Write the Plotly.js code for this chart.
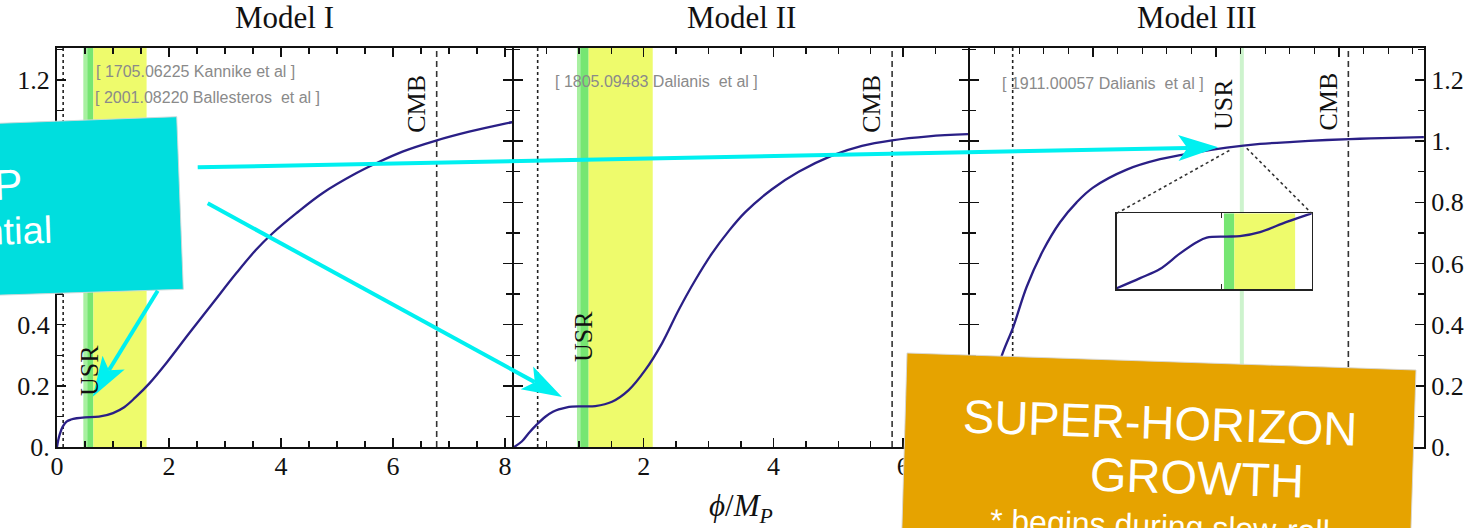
<!DOCTYPE html>
<html>
<head>
<meta charset="utf-8">
<script src="https://cdn.plot.ly/plotly-3.0.1.min.js"></script>
<style>html,body{margin:0;padding:0;background:#fff;}#chart{width:1475px;height:528px;}</style>
</head>
<body>
<div id="chart"></div>
<script>
// ---------------- data ----------------
const panelTitles = ["Model I", "Model II", "Model III"];
const citations = [
  "[ 1705.06225 Kannike et al ]",
  "[ 2001.08220 Ballesteros \u00a0et al ]",
  "[ 1805.09483 Dalianis \u00a0et al ]",
  "[ 1911.00057 Dalianis \u00a0et al ]"
];

const phiModelI = [0, 0.02, 0.05, 0.1, 0.17, 0.25, 0.35, 0.5, 0.75, 1.0, 1.2, 1.4, 1.65, 1.95, 2.36, 2.78, 3.2, 3.55, 3.85, 4.27, 4.74, 5.34, 5.7, 6.17, 6.77, 7.36, 7.96, 8.13];
const vModelI   = [0, 0.02, 0.042, 0.066, 0.083, 0.090, 0.094, 0.097, 0.099, 0.111, 0.130, 0.162, 0.208, 0.274, 0.372, 0.470, 0.568, 0.644, 0.699, 0.764, 0.830, 0.895, 0.928, 0.966, 1.002, 1.031, 1.056, 1.062];

const phiModelII = [0, 0.12, 0.226, 0.35, 0.483, 0.6, 0.689, 0.8, 0.894, 1.05, 1.253, 1.511, 1.768, 2.025, 2.282, 2.539, 2.796, 3.053, 3.31, 3.566, 3.978, 4.389, 4.903, 5.365, 5.828, 6.393, 7.0];
const vModelII   = [0, 0.018, 0.045, 0.073, 0.099, 0.115, 0.123, 0.129, 0.132, 0.133, 0.134, 0.148, 0.186, 0.252, 0.339, 0.448, 0.546, 0.633, 0.706, 0.768, 0.843, 0.900, 0.953, 0.985, 1.003, 1.016, 1.023];

const phiModelIII = [0.1, 0.15, 0.2, 0.252, 0.352, 0.461, 0.596, 0.732, 0.867, 1.0, 1.274, 1.545, 1.815, 2.087, 2.358, 2.628, 2.9, 3.17, 3.44, 3.69];
const vModelIII   = [0, 0.09, 0.19, 0.291, 0.393, 0.524, 0.644, 0.735, 0.800, 0.848, 0.907, 0.941, 0.962, 0.979, 0.991, 0.998, 1.004, 1.008, 1.011, 1.013];

// inset of Model III (zoom around the USR point)
const insetPhi = [1.900, 1.972, 2.033, 2.095, 2.146, 2.177, 2.238, 2.279, 2.341, 2.423, 2.500];
const insetV   = [0.9752, 0.9772, 0.9790, 0.9821, 0.9843, 0.9852, 0.9854, 0.9855, 0.9863, 0.9883, 0.9900];
const insetPhiRange = [1.9, 2.5];
const insetVRange = [0.975, 0.990];

// marker lines: end of inflation (dotted), CMB scale (dashed)
const endLine = [0.11, 0.365, 0.347];
const cmbLine = [6.78, 5.83, 3.076];
// USR band edges [light-green start, green start, yellow start, yellow end]
const usrBandI  = [0.47, 0.54, 0.65, 1.60];
const usrBandII = [0.971, 1.022, 1.151, 2.139];
const usrLineIII = 2.21;
const usrBandInset = [2.230, 2.262, 2.449];
const insetTick = [2.223];

const yTickVals = [0, 0.2, 0.4, 0.6, 0.8, 1.0, 1.2];
const yTickText = ["0.", "0.2", "0.4", "0.6", "0.8", "1.", "1.2"];
const xTickValsI = [0, 2, 4, 6, 8];
const xTickTextI = ["0", "2", "4", "6", "8"];
const xTickValsII = [2, 4, 6];
const xTickTextII = ["2", "4", "6"];
const xTickValsIII = [1, 2, 3];

// ---------------- layout helpers ----------------
const W = 1475, H = 528;
const px = x => x / W;
const py = y => 1 - y / H;

const curveColor = '#2a1f86';
const lightGreen = '#a8f0a0', green = '#76e672', yellow = '#eefb6c';

const serif = 'Liberation Serif, Times New Roman, serif';
const sans = 'Liberation Sans, Arial, sans-serif';

function bandTrace(x0, x1, color) {
  return {x: [x0, x1, x1, x0, x0], y: [insetVRange[0], insetVRange[0], insetVRange[1], insetVRange[1], insetVRange[0]],
    xaxis: 'x4', yaxis: 'y4', mode: 'lines', fill: 'toself', fillcolor: color, line: {width: 0, color: color}, hoverinfo: 'skip'};
}
const curveLine = {color: curveColor, width: 2.3, shape: 'spline', smoothing: 1};

const traces = [
  {x: phiModelI, y: vModelI, xaxis: 'x', yaxis: 'y', mode: 'lines', line: curveLine, hoverinfo: 'skip'},
  {x: phiModelII, y: vModelII, xaxis: 'x2', yaxis: 'y2', mode: 'lines', line: curveLine, hoverinfo: 'skip'},
  {x: phiModelIII, y: vModelIII, xaxis: 'x3', yaxis: 'y3', mode: 'lines', line: curveLine, hoverinfo: 'skip'},
  bandTrace(usrBandInset[0], usrBandInset[1], green),
  bandTrace(usrBandInset[1], usrBandInset[2], yellow),
  {x: insetPhi, y: insetV, xaxis: 'x4', yaxis: 'y4', mode: 'lines', line: curveLine, hoverinfo: 'skip'}
];

const yTop = 48, yBot = 447;
const yMax = (yBot - yTop) / 305.8;

function frameAxis(extra) {
  return Object.assign({
    showline: true, linecolor: '#111', linewidth: 2, mirror: 'ticks',
    ticks: 'inside', ticklen: 9, tickwidth: 1.5, tickcolor: '#111',
    showgrid: false, zeroline: false, fixedrange: true,
    tickfont: {family: serif, size: 26, color: '#111'}
  }, extra);
}

const yDomain = [(H - yBot) / H, (H - yTop) / H];
const yMinor = {tickmode: 'linear', tick0: 0, dtick: 0.1, ticklen: 6, tickwidth: 1.3, tickcolor: '#111', ticks: 'inside'};
const xMinor = d => ({tickmode: 'linear', tick0: 0, dtick: d, ticklen: 6, tickwidth: 1.3, tickcolor: '#111', ticks: 'inside'});

const layout = {
  width: W, height: H,
  margin: {l: 0, r: 0, t: 0, b: 0},
  paper_bgcolor: '#ffffff', plot_bgcolor: '#ffffff',
  showlegend: false,
  xaxis: frameAxis({domain: [px(57), px(512)], range: [0, 455 / 56], anchor: 'y', tickmode: 'array', tickvals: xTickValsI, ticktext: xTickTextI, ticklabelstandoff: -5, minor: xMinor(0.5)}),
  yaxis: frameAxis({domain: yDomain, range: [0, yMax], anchor: 'x', tickmode: 'array', tickvals: yTickVals, ticktext: yTickText, ticklabelstandoff: 0, minor: yMinor}),
  xaxis2: frameAxis({domain: [px(514), px(968)], range: [0, 7], anchor: 'y2', tickmode: 'array', tickvals: xTickValsII, ticktext: xTickTextII, ticklabelstandoff: -5, minor: xMinor(0.5)}),
  yaxis2: frameAxis({domain: yDomain, range: [0, yMax], anchor: 'x2', tickmode: 'array', tickvals: yTickVals, showticklabels: false, minor: yMinor}),
  xaxis3: frameAxis({domain: [px(970), px(1424)], range: [0, 454 / 123], anchor: 'y3', tickmode: 'array', tickvals: xTickValsIII, showticklabels: false, minor: xMinor(0.2)}),
  yaxis3: frameAxis({domain: yDomain, range: [0, yMax], anchor: 'x3', side: 'right', tickmode: 'array', tickvals: yTickVals, ticktext: yTickText, ticklabelstandoff: 0, minor: yMinor}),
  xaxis4: {domain: [px(1116.7), px(1311.7)], range: insetPhiRange, anchor: 'y4', showline: true, linecolor: '#222', linewidth: 1.5, mirror: 'ticks',
    ticks: 'inside', ticklen: 5, tickwidth: 1.5, tickcolor: '#222', tickmode: 'array', tickvals: insetTick, showticklabels: false, showgrid: false, zeroline: false, fixedrange: true, layer: 'above traces'},
  yaxis4: {domain: [(H - 289.3) / H, (H - 213.3) / H], range: insetVRange, anchor: 'x4', showline: true, linecolor: '#222', linewidth: 1.5, mirror: true,
    ticks: '', showticklabels: false, showgrid: false, zeroline: false, fixedrange: true, layer: 'above traces'},
  shapes: [],
  annotations: []
};

// ----- bands and marker lines -----
function band(xr, yr, x0, x1, color) {
  layout.shapes.push({type: 'rect', xref: xr, yref: yr + ' domain', x0: x0, x1: x1, y0: 0, y1: 1, fillcolor: color, line: {width: 0}, layer: 'below'});
}
band('x', 'y', usrBandI[0], usrBandI[1], lightGreen);
band('x', 'y', usrBandI[1], usrBandI[2], green);
band('x', 'y', usrBandI[2], usrBandI[3], yellow);
band('x2', 'y2', usrBandII[0], usrBandII[1], lightGreen);
band('x2', 'y2', usrBandII[1], usrBandII[2], green);
band('x2', 'y2', usrBandII[2], usrBandII[3], yellow);

layout.shapes.push({type: 'line', xref: 'x3', yref: 'y3 domain', x0: usrLineIII, x1: usrLineIII, y0: 0, y1: 1, line: {color: '#cdf3cd', width: 4}, layer: 'below'});

const axPairs = [['x', 'y'], ['x2', 'y2'], ['x3', 'y3']];
axPairs.forEach((p, i) => {
  layout.shapes.push({type: 'line', xref: p[0], yref: p[1] + ' domain', x0: endLine[i], x1: endLine[i], y0: 0, y1: 1, line: {color: '#222', width: 1.6, dash: 'dot'}, layer: 'below'});
  layout.shapes.push({type: 'line', xref: p[0], yref: p[1] + ' domain', x0: cmbLine[i], x1: cmbLine[i], y0: 0, y1: 1, line: {color: '#333', width: 1.6, dash: '6px,4px'}, layer: 'below'});
});

// dotted zoom guides from the curve to the inset corners (panel III data coords)
layout.shapes.push({type: 'line', xref: 'x3', yref: 'y3', x0: 1.193, y0: 0.764, x1: 2.114, y1: 0.971, line: {color: '#333', width: 1.6, dash: 'dot'}});
layout.shapes.push({type: 'line', xref: 'x3', yref: 'y3', x0: 2.25, y0: 0.977, x1: 2.778, y1: 0.764, line: {color: '#333', width: 1.6, dash: 'dot'}});

// ----- overlay boxes -----
function poly(pts, fill, lineColor) {
  const d = pts.map((p, k) => (k ? 'L' : 'M') + px(p[0]).toFixed(5) + ',' + py(p[1]).toFixed(5)).join(' ') + ' Z';
  layout.shapes.push({type: 'path', xref: 'paper', yref: 'paper', path: d, fillcolor: fill, line: {color: lineColor, width: lineColor ? 1 : 0}, layer: 'above'});
}
poly([[-60, 125.5], [176.7, 116.7], [183.3, 289.3], [-60, 297]], '#00dede', 'rgba(205,215,215,0.9)');
poly([[907, 353], [1416, 370], [1410, 560], [901, 560]], '#e6a300', 'rgba(215,215,215,0.9)');

// ----- cyan arrows -----
const cyan = '#00f0f0';
function arrow(tail, tip) {
  const dx = tip[0] - tail[0], dy = tip[1] - tail[1];
  const L = Math.hypot(dx, dy), ux = dx / L, uy = dy / L, nx = -uy, ny = ux;
  const headLen = 40, halfW = 13, notch = 31;
  const lineEnd = [tip[0] - ux * notch, tip[1] - uy * notch];
  layout.shapes.push({type: 'path', xref: 'paper', yref: 'paper', layer: 'above',
    path: 'M' + px(tail[0]) + ',' + py(tail[1]) + ' L' + px(lineEnd[0]) + ',' + py(lineEnd[1]),
    line: {color: cyan, width: 4}});
  const pts = [tip,
    [tip[0] - ux * headLen + nx * halfW, tip[1] - uy * headLen + ny * halfW],
    [tip[0] - ux * notch, tip[1] - uy * notch],
    [tip[0] - ux * headLen - nx * halfW, tip[1] - uy * headLen - ny * halfW]];
  const d = pts.map((p, k) => (k ? 'L' : 'M') + px(p[0]) + ',' + py(p[1])).join(' ') + ' Z';
  layout.shapes.push({type: 'path', xref: 'paper', yref: 'paper', layer: 'above', path: d, fillcolor: cyan, line: {width: 0}});
}
arrow([197.7, 167.3], [1218.3, 147.3]);
arrow([207.7, 203.3], [562, 397]);
arrow([157.7, 290.7], [92.7, 396.7]);

// ----- annotations -----
function note(text, x, y, opts) {
  layout.annotations.push(Object.assign({text: text, x: px(x), y: py(y), xref: 'paper', yref: 'paper', showarrow: false,
    xanchor: 'center', yanchor: 'middle', font: {family: serif, size: 26, color: '#111'}}, opts || {}));
}
// panel titles
[[284.5, 0], [741, 1], [1197, 2]].forEach(t => note(panelTitles[t[1]], t[0], 17, {font: {family: serif, size: 31, color: '#111'}}));
// USR / CMB labels
note('USR', 89, 371, {textangle: -90});
note('CMB', 415.8, 104, {textangle: -90});
note('USR', 583, 337, {textangle: -90});
note('CMB', 870.8, 104, {textangle: -90});
note('USR', 1223, 105, {textangle: -90});
note('CMB', 1328, 101.5, {textangle: -90});
// citations
const citeFont = {family: sans, size: 16, color: '#8a8a8a'};
note(citations[0], 93.5, 71, {xanchor: 'left', font: citeFont});
note(citations[1], 93, 97, {xanchor: 'left', font: citeFont});
note(citations[2], 553, 81, {xanchor: 'left', font: citeFont});
note(citations[3], 1000, 83, {xanchor: 'left', font: citeFont});
// x-axis title
note('<i>\u03d5</i>/<i>M</i><sub><i>P</i></sub>', 741, 508, {font: {family: serif, size: 31, color: '#111'}});
// overlay texts
const white = '#ffffff';
note('STEP', 25, 186, {xanchor: 'right', textangle: -2, font: {family: sans, size: 43, color: white}});
note('in the potential', 55, 234, {xanchor: 'right', textangle: -2, font: {family: sans, size: 38, color: white}});
note('SUPER-HORIZON', 1160, 422.5, {textangle: 1.9, font: {family: sans, size: 47, color: white}});
note('GROWTH', 1197, 477, {textangle: 1.9, font: {family: sans, size: 47, color: white}});
note('* begins during slow-roll', 1160, 526, {textangle: 1.9, font: {family: sans, size: 32, color: white}});

Plotly.newPlot('chart', traces, layout, {displayModeBar: false, staticPlot: true});
</script>
</body>
</html>
